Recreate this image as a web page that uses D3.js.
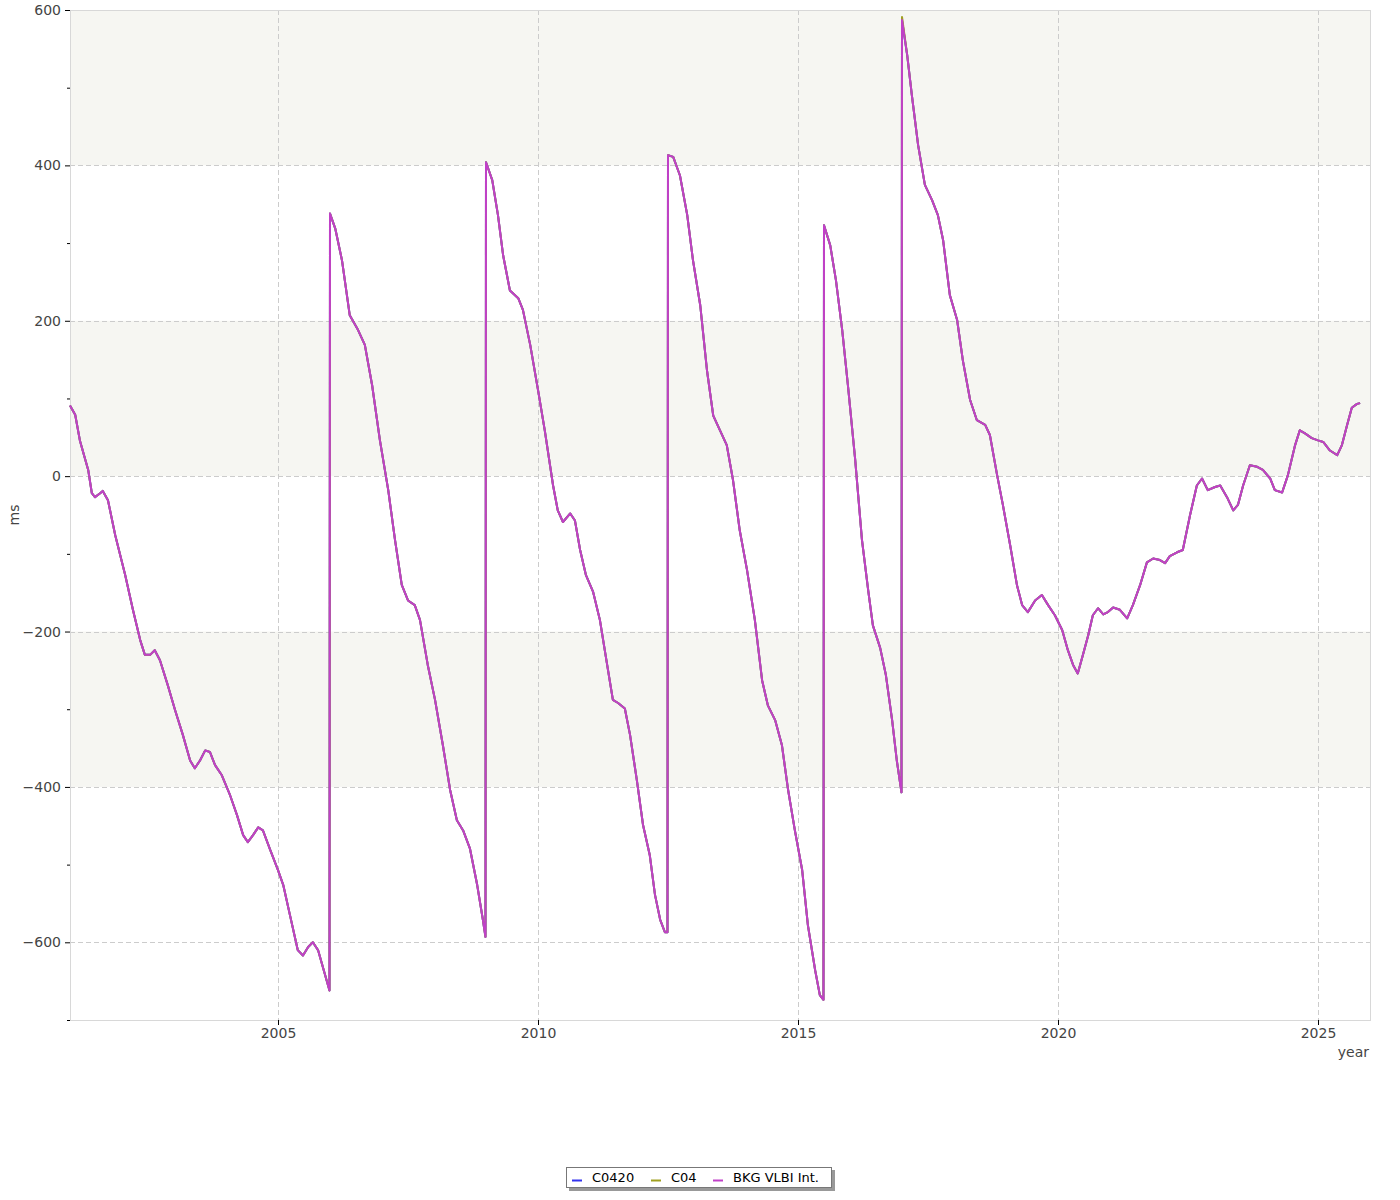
<!DOCTYPE html>
<html>
<head>
<meta charset="utf-8">
<script src="https://cdn.jsdelivr.net/npm/d3@7"></script>
<style>
  body { margin: 0; background: #fff; }
  text { font-family: "DejaVu Sans", Verdana, sans-serif; }
  .tick text { fill: #444; font-size: 14px; }
</style>
</head>
<body>
<div class="chart"></div>
<script>
// UT1-UTC (ms); leap seconds give the vertical jumps
var years = [
  2001.0, 2001.1, 2001.19, 2001.35, 2001.42, 2001.48, 2001.58, 2001.63, 2001.73, 2001.87,
  2002.06, 2002.21, 2002.35, 2002.44, 2002.54, 2002.63, 2002.73, 2002.88, 2003.02, 2003.17,
  2003.31, 2003.4, 2003.5, 2003.6, 2003.69, 2003.79, 2003.92, 2004.08, 2004.21, 2004.33,
  2004.42, 2004.52, 2004.62, 2004.71, 2004.85, 2005.0, 2005.1, 2005.23, 2005.38, 2005.48,
  2005.58, 2005.67, 2005.77, 2005.88, 2005.99,
  2006.0, 2006.1, 2006.23, 2006.38, 2006.54, 2006.67, 2006.81, 2006.96, 2007.12, 2007.25,
  2007.38, 2007.5, 2007.63, 2007.73, 2007.88, 2008.02, 2008.17, 2008.31, 2008.44, 2008.56,
  2008.69, 2008.83, 2008.94, 2008.99,
  2009.0, 2009.12, 2009.23, 2009.33, 2009.46, 2009.62, 2009.71, 2009.85, 2010.0, 2010.13,
  2010.29, 2010.38, 2010.48, 2010.62, 2010.71, 2010.81, 2010.92, 2011.06, 2011.19, 2011.33,
  2011.44, 2011.54, 2011.67, 2011.77, 2011.9, 2012.02, 2012.15, 2012.25, 2012.35, 2012.44,
  2012.49,
  2012.5, 2012.6, 2012.73, 2012.87, 2012.98, 2013.12, 2013.25, 2013.37, 2013.5, 2013.63,
  2013.75, 2013.88, 2014.02, 2014.17, 2014.31, 2014.42, 2014.56, 2014.69, 2014.81, 2014.94,
  2015.08, 2015.19, 2015.33, 2015.42, 2015.49,
  2015.5, 2015.62, 2015.73, 2015.85, 2015.96, 2016.1, 2016.23, 2016.35, 2016.44, 2016.58,
  2016.69, 2016.81, 2016.9, 2016.99,
  2017.0, 2017.1, 2017.19, 2017.31, 2017.44, 2017.58, 2017.69, 2017.79, 2017.92, 2018.06,
  2018.17, 2018.31, 2018.44, 2018.6, 2018.69, 2018.83, 2018.94, 2019.08, 2019.21, 2019.31,
  2019.42, 2019.56, 2019.69, 2019.81, 2019.94, 2020.08, 2020.19, 2020.29, 2020.38, 2020.48,
  2020.58, 2020.67, 2020.77, 2020.87, 2020.96, 2021.06, 2021.19, 2021.33, 2021.44, 2021.58,
  2021.71, 2021.83, 2021.96, 2022.06, 2022.15, 2022.29, 2022.4, 2022.54, 2022.67, 2022.77,
  2022.88, 2023.02, 2023.12, 2023.25, 2023.37, 2023.46, 2023.56, 2023.69, 2023.83, 2023.94,
  2024.08, 2024.17, 2024.31, 2024.42, 2024.56, 2024.65, 2024.75, 2024.88, 2025.0, 2025.1,
  2025.23, 2025.37, 2025.46, 2025.56, 2025.65, 2025.75, 2025.81
];

var bkgVlbi = [
  91, 79, 46, 8, -22, -27, -22, -19, -31, -76,
  -127, -172, -211, -230, -230, -224, -237, -269, -301, -333,
  -366, -376, -366, -353, -355, -372, -385, -411, -436, -462,
  -471, -462, -452, -456, -481, -507, -526, -565, -610, -617,
  -606, -600, -610, -636, -662,
  338, 319, 278, 207, 188, 169, 117, 46, -18, -82,
  -140, -160, -166, -185, -243, -288, -346, -404, -443, -456,
  -479, -526, -571, -593,
  404, 381, 336, 284, 239, 229, 214, 169, 111, 59,
  -12, -44, -59, -48, -57, -95, -127, -149, -185, -243,
  -288, -292, -299, -333, -391, -449, -488, -539, -571, -587,
  -587,
  413, 411, 387, 336, 278, 220, 136, 78, 59, 40,
  -5, -70, -121, -185, -263, -295, -314, -346, -404, -456,
  -507, -578, -636, -668, -674,
  323, 297, 252, 188, 117, 21, -82, -147, -192, -221,
  -256, -314, -366, -407,
  587, 542, 490, 426, 375, 355, 336, 304, 233, 201,
  149, 98, 72, 66, 53, 1, -37, -89, -140, -166,
  -175, -160, -153, -166, -179, -198, -224, -243, -254, -230,
  -205, -179, -170, -178, -175, -169, -172, -183, -166, -140,
  -111, -106, -108, -112, -103, -98, -95, -50, -12, -3,
  -18, -14, -12, -27, -44, -37, -12, 14, 12, 8,
  -3, -18, -21, 1, 40, 59, 55, 49, 46, 44,
  33, 27, 40, 66, 88, 93, 94
];

// C04 and C0420 lie on top of the VLBI series at this scale;
// C04 only peeks out at the 2017 leap second peak
var c04 = bkgVlbi.slice();
var c0420 = bkgVlbi.slice();
c04[years.indexOf(2017.0)] = 591;

var seriesNames = ["C0420", "C04", "BKG VLBI Int."];
var seriesColors = ["#3333ee", "#a0a020", "#c040c8"];
var seriesValues = [c0420, c04, bkgVlbi];

var yTicks = [-600, -400, -200, 0, 200, 400, 600];
var xTicks = [2005, 2010, 2015, 2020, 2025];

var svgWidth = 1400;
var svgHeight = 1200;
var margin = { top: 10, right: 30, bottom: 180, left: 70 };
var width = svgWidth - margin.left - margin.right;
var height = svgHeight - margin.top - margin.bottom;

var svg = d3.select(".chart")
  .append("svg")
  .attr("width", svgWidth)
  .attr("height", svgHeight);

var chartGroup = svg.append("g")
  .attr("transform", `translate(${margin.left}, ${margin.top})`);

var xScale = d3.scaleLinear().domain([2001, 2026]).range([0, width]);
var yScale = d3.scaleLinear().domain([-700, 600]).range([height, 0]);

// alternating background bands
var bands = [[400, 600], [0, 200], [-400, -200]];
chartGroup.selectAll(".band")
  .data(bands)
  .enter()
  .append("rect")
  .attr("x", 0)
  .attr("width", width)
  .attr("y", d => yScale(d[1]))
  .attr("height", d => yScale(d[0]) - yScale(d[1]))
  .attr("fill", "#f6f6f2");

// grid lines
chartGroup.selectAll(".hgrid")
  .data(yTicks)
  .enter()
  .append("line")
  .attr("x1", 0)
  .attr("x2", width)
  .attr("y1", d => Math.round(yScale(d)) + 0.5)
  .attr("y2", d => Math.round(yScale(d)) + 0.5)
  .attr("stroke", "#cccccc")
  .attr("stroke-dasharray", "5,3");

chartGroup.selectAll(".vgrid")
  .data(xTicks)
  .enter()
  .append("line")
  .attr("y1", 0)
  .attr("y2", height)
  .attr("x1", d => Math.round(xScale(d)) + 0.5)
  .attr("x2", d => Math.round(xScale(d)) + 0.5)
  .attr("stroke", "#cccccc")
  .attr("stroke-dasharray", "5,3");

// plot frame
chartGroup.append("rect")
  .attr("x", 0.5)
  .attr("y", 0.5)
  .attr("width", width)
  .attr("height", height)
  .attr("fill", "none")
  .attr("stroke", "#d8d8d8");

// axes
var leftAxis = d3.axisLeft(yScale).tickValues(yTicks).tickSize(5).tickPadding(4);
var yAxis = chartGroup.append("g").call(leftAxis);
yAxis.select(".domain").remove();

var minorAxis = d3.axisLeft(yScale)
  .tickValues([-700, -500, -300, -100, 100, 300, 500])
  .tickSize(3)
  .tickFormat("");
chartGroup.append("g").call(minorAxis).select(".domain").remove();

var bottomAxis = d3.axisBottom(xScale).tickValues(xTicks).tickFormat(d3.format("d")).tickSize(5).tickPadding(3);
var xAxis = chartGroup.append("g")
  .attr("transform", `translate(0, ${height})`)
  .call(bottomAxis);
xAxis.select(".domain").remove();

// axis titles
svg.append("text")
  .attr("transform", `translate(19, ${margin.top + yScale(-50)}) rotate(-90)`)
  .attr("text-anchor", "middle")
  .attr("font-size", 14)
  .attr("fill", "#444")
  .text("ms");

svg.append("text")
  .attr("x", margin.left + width - 1)
  .attr("y", margin.top + height + 37)
  .attr("text-anchor", "end")
  .attr("font-size", 14)
  .attr("fill", "#444")
  .text("year");

// lines
var line = d3.line()
  .x((d, i) => xScale(years[i]))
  .y(d => yScale(d));

chartGroup.selectAll(".series")
  .data(seriesValues)
  .enter()
  .append("path")
  .attr("d", d => line(d))
  .attr("fill", "none")
  .attr("stroke", (d, i) => seriesColors[i])
  .attr("stroke-width", 2)
  .attr("stroke-linejoin", "round");

// legend
var legend = svg.append("g").attr("transform", "translate(566, 1167)");
legend.append("rect")
  .attr("x", 3).attr("y", 3)
  .attr("width", 266).attr("height", 21)
  .attr("fill", "#999");
legend.append("rect")
  .attr("x", 0.5).attr("y", 0.5)
  .attr("width", 265).attr("height", 20)
  .attr("fill", "#fff")
  .attr("stroke", "#777");

var legendX = [6, 85, 147];
var items = legend.selectAll(".item")
  .data(seriesNames)
  .enter()
  .append("g")
  .attr("transform", (d, i) => `translate(${legendX[i]}, 0)`);

items.append("line")
  .attr("x1", 0).attr("x2", 10)
  .attr("y1", 13.5).attr("y2", 13.5)
  .attr("stroke", (d, i) => seriesColors[i])
  .attr("stroke-width", 2);

items.append("text")
  .attr("x", 20)
  .attr("y", 15)
  .attr("font-size", 13)
  .attr("fill", "#000")
  .text(d => d);
</script>
</body>
</html>
